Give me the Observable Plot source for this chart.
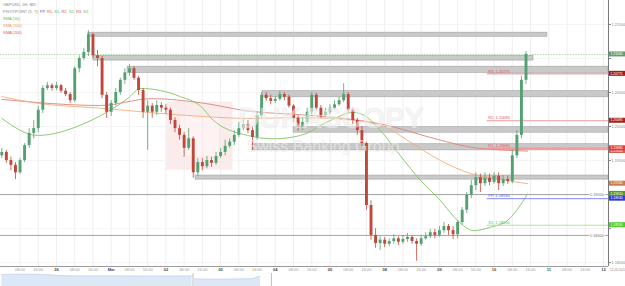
<!DOCTYPE html>
<html><head><meta charset="utf-8">
<script src="https://cdn.jsdelivr.net/npm/d3@7"></script>
<script src="https://cdn.jsdelivr.net/npm/@observablehq/plot@0.6"></script>
<style>
body{margin:0;background:#fff;}
#wrap{width:625px;height:286px;overflow:hidden;}
#wrap svg{display:block;}
</style></head><body><div id="wrap"></div>
<script>
// ---- OHLC (2-hour bars, hour index from 25 Feb 00:00, trading hours only)
const open=[1.1957,1.1962,1.1950,1.1943,1.1932,1.1950,1.1972,1.1990,1.1997,1.2024,
1.2056,1.2060,1.2056,1.2060,1.2052,1.2047,1.2038,1.2085,1.2100,1.2109,
1.2135,1.2104,1.2100,1.2046,1.2021,1.2034,1.2050,1.2068,1.2079,1.2085,
1.2071,1.2053,1.2021,1.2030,1.2021,1.2031,1.2027,1.2024,1.2009,1.1997,
1.1987,1.1968,1.1982,1.1932,1.1947,1.1941,1.1950,1.1946,1.1956,1.1962,
1.1971,1.1977,1.1987,1.1997,1.2003,1.1994,1.1984,1.2016,1.2046,1.2041,
1.2037,1.2040,1.2047,1.2043,1.2030,1.2012,1.1999,1.2006,1.2021,1.2046,
1.2027,1.2016,1.2021,1.2027,1.2032,1.2038,1.2047,1.2024,1.2009,1.1994,
1.1975,1.1884,1.1840,1.1828,1.1833,1.1827,1.1831,1.1835,1.1830,1.1834,
1.1837,1.1831,1.1827,1.1835,1.1838,1.1844,1.1840,1.1847,1.1853,1.1847,
1.1841,1.1859,1.1877,1.1899,1.1913,1.1925,1.1916,1.1924,1.1918,1.1927,
1.1916,1.1922,1.1919,1.1957,1.1987,1.2068];
const high=[1.1968,1.1965,1.1955,1.1947,1.1953,1.1975,1.1997,1.2009,1.2030,1.2060,
1.2065,1.2063,1.2065,1.2062,1.2056,1.2050,1.2088,1.2104,1.2115,1.2141,
1.2137,1.2112,1.2103,1.2050,1.2038,1.2056,1.2071,1.2085,1.2091,1.2088,
1.2074,1.2056,1.2038,1.2034,1.2038,1.2035,1.2032,1.2027,1.2013,1.2002,
1.1991,1.1997,1.1985,1.1953,1.1953,1.1956,1.1955,1.1962,1.1968,1.1980,
1.1982,1.1994,1.2006,1.2012,1.2009,1.2000,1.2021,1.2050,1.2050,1.2046,
1.2044,1.2052,1.2050,1.2046,1.2032,1.2016,1.2012,1.2027,1.2050,1.2049,
1.2031,1.2027,1.2032,1.2038,1.2043,1.2063,1.2050,1.2027,1.2012,1.2000,
1.1977,1.1891,1.1850,1.1838,1.1837,1.1835,1.1841,1.1838,1.1840,1.1843,
1.1840,1.1835,1.1840,1.1844,1.1849,1.1849,1.1853,1.1859,1.1856,1.1853,
1.1862,1.1881,1.1903,1.1921,1.1932,1.1930,1.1932,1.1930,1.1932,1.1932,
1.1928,1.1927,1.1965,1.1994,1.2074,1.2110];
const low=[1.1953,1.1946,1.1935,1.1922,1.1930,1.1947,1.1968,1.1982,1.1991,1.2019,
1.2053,1.2052,1.2053,1.2049,1.2044,1.2034,1.2035,1.2079,1.2097,1.2103,
1.2100,1.2088,1.2041,1.2012,1.2015,1.2030,1.2046,1.2062,1.2074,1.2068,
1.2046,1.2012,1.1965,1.2012,1.2016,1.2021,1.2018,1.2003,1.1991,1.1980,
1.1955,1.1965,1.1924,1.1927,1.1935,1.1938,1.1940,1.1943,1.1953,1.1957,
1.1968,1.1972,1.1984,1.1994,1.1990,1.1965,1.1980,1.2012,1.2037,1.2032,
1.2034,1.2037,1.2038,1.2027,1.2006,1.1993,1.1994,1.2003,1.2018,1.2024,
1.2012,1.2013,1.2018,1.2024,1.2030,1.2035,1.2019,1.2003,1.1987,1.1969,
1.1877,1.1833,1.1821,1.1818,1.1822,1.1824,1.1827,1.1825,1.1827,1.1830,
1.1827,1.1802,1.1824,1.1833,1.1835,1.1835,1.1837,1.1843,1.1840,1.1834,
1.1835,1.1855,1.1872,1.1894,1.1906,1.1903,1.1912,1.1913,1.1915,1.1906,
1.1912,1.1915,1.1916,1.1953,1.1982,1.2062];
const close=[1.1962,1.1950,1.1943,1.1932,1.1950,1.1972,1.1990,1.1997,1.2024,1.2056,
1.2060,1.2056,1.2060,1.2052,1.2047,1.2038,1.2085,1.2100,1.2109,1.2135,
1.2104,1.2100,1.2046,1.2021,1.2034,1.2050,1.2068,1.2079,1.2085,1.2071,
1.2053,1.2021,1.2030,1.2021,1.2031,1.2027,1.2024,1.2009,1.1997,1.1987,
1.1968,1.1982,1.1932,1.1947,1.1941,1.1950,1.1946,1.1956,1.1962,1.1971,
1.1977,1.1987,1.1997,1.2003,1.1994,1.1984,1.2016,1.2046,1.2041,1.2037,
1.2040,1.2047,1.2043,1.2030,1.2012,1.1999,1.2006,1.2021,1.2046,1.2027,
1.2016,1.2021,1.2027,1.2032,1.2038,1.2047,1.2024,1.2009,1.1994,1.1975,
1.1884,1.1840,1.1828,1.1833,1.1827,1.1831,1.1835,1.1830,1.1834,1.1837,
1.1831,1.1827,1.1835,1.1838,1.1844,1.1840,1.1847,1.1853,1.1847,1.1841,
1.1859,1.1877,1.1899,1.1913,1.1925,1.1916,1.1924,1.1918,1.1927,1.1916,
1.1922,1.1919,1.1957,1.1987,1.2068,1.2106];
const barHours = 2;

// ---- moving averages (traced)
const sma50Hours=[0,15.7,35.9,43.3,55.2,60.9,69.6,78.4,87.2,92.9,107.8,119.2,131.1,144.2,154.3,160.5,166.2,174.9,183.7,192.5,200,207,214.4,221.9,230.7];
const sma50Values=[1.2012,1.1987,1.2004,1.2016,1.2041,1.2056,1.2053,1.2044,1.2030,1.2009,1.1987,1.1982,1.1987,1.2009,1.2021,1.2013,1.1994,1.1957,1.1921,1.1891,1.1862,1.1847,1.1852,1.1862,1.1901];
const sma100Hours=[0,14,43.3,87.2,107.8,131.1,144.2,166.2,179.3,192.5,205.7,215.7,230.7];
const sma100Values=[1.2044,1.2035,1.2027,1.2015,1.2012,1.2013,1.2012,1.2002,1.1977,1.1950,1.1931,1.1924,1.1916];
const sma200Hours=[0,43.3,65.8,87.2,107.8,136.8,166.2,192.5,207,230.7];
const sma200Values=[1.2040,1.2031,1.2041,1.2035,1.2023,1.2016,1.2004,1.1980,1.1969,1.1964];

// ---- pivot points
const pivotNames=["R3","R2","R1","PP","S1"];
const pivotValues=[1.20775,1.20085,1.19680,1.18940,1.18550];
const pivotStartHour=213;

// ---- supply / demand zones
const zoneStartHour=[38.0,40.2,55.2,114.4,128.0,110.0,85.0];
const zoneEndHour=[239.4,233.3,null,null,null,null,null];
const zoneTop=[1.2138,1.2104,1.2088,1.2052,1.1999,1.1974,1.1928];
const zoneBottom=[1.2132,1.2097,1.2079,1.2043,1.1991,1.1965,1.1922];

// ---- horizontal level lines
const levelValues=[1.1900,1.1840];

// ---- axes
const hourTicks=[8,16,32,40,56,64,80,88,104,112,128,136,152,160,176,184,200,208,224,232,248,256];
const hourLabels=["08:00","16:00","08:00","16:00","08:00","16:00","08:00","16:00","08:00","16:00","08:00","16:00","08:00","16:00","08:00","16:00","08:00","16:00","08:00","16:00","08:00","16:00"];
const dayTicks=[24,48,72,96,120,144,168,192,216,240,264];
const dayLabels=["26","Mar","02","03","04","05","08","09","10","11","12"];
const priceTicks=[1.180,1.185,1.190,1.195,1.200,1.205,1.210,1.215];
const dateLabel="12.03.2021";

// ---- lower pane (indicator area)
const paneHours=[0,10,20,26,35,50,65,83.5,84.5,95,105,110,112,113.5];
const paneValues=[12,12.2,11.8,10.8,10.5,10.6,10.3,10.5,7.5,7.2,7.6,7.8,9.5,10.2];
const paneSeg=[0,0,0,0,0,0,0,0,1,1,1,1,1,1];
const paneDividers=[83.9,118.3];

// ---------------------------------------------------------------
const xDomain=[-0.57,266.2];
const yDomain=[1.17943,1.21853];
const GREEN="#55a070", RED="#c2473a";
const pivotColor={R3:"#e07a7a",R2:"#e79090",R1:"#f29a9a",PP:"#7c7cf5",S1:"#a6e394"};
const pivotText={R3:"#d45a5a",R2:"#d45a5a",R1:"#e06060",PP:"#5a5af0",S1:"#5cc44a"};

const candles=close.map((c,i)=>({h:i*barHours,o:open[i],hi:high[i],lo:low[i],c,up:c>=open[i]}));
const zones=zoneTop.map((t,i)=>({h1:zoneStartHour[i],h2:zoneEndHour[i]??xDomain[1],p1:zoneBottom[i],p2:t}));
const pivots=pivotNames.map((n,i)=>({n,v:pivotValues[i]}));
const sma50=sma50Hours.map((h,i)=>({h,v:sma50Values[i]}));
const sma100=sma100Hours.map((h,i)=>({h,v:sma100Values[i]}));
const sma200=sma200Hours.map((h,i)=>({h,v:sma200Values[i]}));
const hourMap=new Map(hourTicks.map((h,i)=>[h,hourLabels[i]]));
const dayMap=new Map(dayTicks.map((h,i)=>[h,dayLabels[i]]));
const lastClose=close[close.length-1];
const font="Liberation Sans, Arial, sans-serif";

// right-axis value tags (drawn on top of the axis labels)
const tags=[
  {v:sma200Values[sma200Values.length-1],c:"#d0605a"},
  {v:lastClose,c:"#5e9f72"},
  {v:pivotValues[0],c:"#a01c1c"},
  {v:pivotValues[1],c:"#a82020"},
  {v:pivotValues[2],c:"#e53935"},
  {v:sma100Values[sma100Values.length-1],c:"#c97c4c"},
  {v:sma50Values[sma50Values.length-1],c:"#4f9a32"},
  {v:pivotValues[3],c:"#2b3fd6"},
  {v:pivotValues[4],c:"#4ccc2e"}
];
const pxPerUnit=266/(yDomain[1]-yDomain[0]);
const hiddenTick=d=>tags.some(t=>Math.abs(t.v-d)*pxPerUnit<4.5);

const chart=Plot.plot({
  width:625,height:273,marginLeft:0,marginRight:17,marginTop:0,marginBottom:7,
  style:{fontFamily:font,fontSize:"4px",color:"#777",background:"transparent",overflow:"visible"},
  x:{domain:xDomain,axis:null},
  y:{domain:yDomain,axis:null},
  marks:[
    Plot.ruleX([...hourTicks,...dayTicks],{stroke:"#ebebeb",strokeWidth:0.8}),
    Plot.ruleY(priceTicks,{stroke:"#f3f3f3",strokeWidth:0.8}),
    Plot.rect(zones,{x1:"h1",x2:"h2",y1:"p1",y2:"p2",fill:"#c9c9c9",stroke:"#a2a2a2",strokeWidth:0.6}),
    Plot.ruleY(levelValues,{x1:xDomain[0],x2:xDomain[1],stroke:"#8c8c8c",strokeWidth:0.8}),
    Plot.line(sma200,{x:"h",y:"v",stroke:"#dc857a",strokeWidth:0.9,curve:"monotone-x"}),
    Plot.line(sma100,{x:"h",y:"v",stroke:"#f2ad7e",strokeWidth:0.9,curve:"monotone-x"}),
    Plot.line(sma50,{x:"h",y:"v",stroke:"#82c463",strokeWidth:0.9,curve:"monotone-x"}),
    Plot.ruleY(pivots,{y:"v",x1:pivotStartHour,x2:xDomain[1],stroke:d=>pivotColor[d.n],strokeWidth:d=>d.n==="R1"?1.6:0.9}),
    Plot.text(pivots,{x:pivotStartHour,y:"v",dx:1,dy:-2.6,text:d=>`${d.n}, ${d.v.toFixed(5)}`,textAnchor:"start",fill:d=>pivotText[d.n],fontSize:4}),
    Plot.ruleY([lastClose],{stroke:"#8fd68f",strokeWidth:0.8,strokeDasharray:"1.5,1.2"}),
    Plot.ruleX(candles,{x:"h",y1:"lo",y2:"hi",stroke:d=>d.up?GREEN:RED,strokeWidth:0.8}),
    Plot.ruleX(candles,{x:"h",y1:"o",y2:"c",stroke:d=>d.up?GREEN:RED,strokeWidth:2.9}),
    Plot.text(levelValues,{x:258,y:d=>d,text:d=>d.toFixed(5),textAnchor:"start",fill:"#777",stroke:"white",strokeWidth:2,fontSize:4}),
    Plot.text(["DUKASCOPY"],{frameAnchor:"top-left",dx:238,dy:107,text:d=>d,textAnchor:"start",fontSize:29,fontWeight:"bold",fill:"#eeeeee",fillOpacity:0.6,stroke:"#d8d8d8",strokeOpacity:0.5,strokeWidth:0.5}),
    Plot.text(["Swiss Banking Group"],{frameAnchor:"top-left",dx:246,dy:140,text:d=>d,textAnchor:"start",fontSize:16,fill:"#eeeeee",fillOpacity:0.6,stroke:"#dddddd",strokeOpacity:0.4,strokeWidth:0.4}),
    Plot.ruleY([yDomain[0]],{stroke:"#9a9a9a",strokeWidth:1}),
    Plot.ruleX([xDomain[1]],{stroke:"#7a7a7a",strokeWidth:1}),
    Plot.axisX(hourTicks,{tickFormat:d=>hourMap.get(d),tickSize:0,tickPadding:1.5,fontSize:4,fill:"#999"}),
    Plot.axisX(dayTicks,{tickFormat:d=>dayMap.get(d),tickSize:0,tickPadding:1.5,fontSize:4,fill:"#444",fontWeight:"bold"}),
    Plot.axisY(priceTicks,{anchor:"right",tickFormat:d=>hiddenTick(d)?"":d.toFixed(5),tickSize:2,tickPadding:1,fontSize:4,fill:"#888",stroke:"#888"})
  ]
});

const svg=d3.select(chart);
const ys=chart.scale("y"), xs=chart.scale("x");
// watermark logo (pink square) behind marks
const logoX=xs.apply(72.5), logoY=ys.apply(1.2036);
svg.insert("rect","g").attr("x",logoX).attr("y",logoY).attr("width",66).attr("height",68).attr("fill","#fbe4e4").attr("opacity",0.75);
svg.insert("rect","g").attr("x",logoX+14).attr("y",logoY+14).attr("width",38).attr("height",40).attr("fill","#fff4f4").attr("opacity",0.8);

const axisX0=xs.apply(xDomain[1])+1;
const tg=svg.append("g").attr("font-family",font).attr("text-anchor","start");
for(const t of tags){
  const yy=ys.apply(t.v);
  tg.append("rect").attr("x",axisX0).attr("y",yy-2.5).attr("width",16).attr("height",5).attr("fill",t.c);
  tg.append("text").attr("x",axisX0+1.5).attr("y",yy+1.2).attr("fill","white").attr("font-size",3.4).text(t.v.toFixed(5));
}
tg.append("text").attr("x",axisX0+1).attr("y",ys.apply(yDomain[0])+5).attr("fill","#888").attr("font-size",3).text(dateLabel);

// legend
const lg=svg.append("g").attr("font-family",font).attr("font-size",4).attr("text-anchor","start");
lg.append("text").attr("x",3).attr("y",6.4).attr("fill","#888").text("GBPUSD, 1H, BID");
const pv=lg.append("text").attr("x",3).attr("y",13.4).attr("fill","#888");
pv.append("tspan").text("PIVOTPOINT (5, 7): ");
const legendPivots=[["PP","#5a5af0"],["R1","#e05050"],["S1","#5cc44a"],["R2","#e05050"],["S2","#5cc44a"],["R3","#e05050"],["S3","#5cc44a"]];
legendPivots.forEach(([n,c],i)=>{pv.append("tspan").attr("fill",c).text(n);if(i<legendPivots.length-1)pv.append("tspan").attr("fill","#888").text(", ");});
lg.append("text").attr("x",3).attr("y",20.4).attr("fill","#6cbb48").text("SMA (50)");
lg.append("text").attr("x",3).attr("y",27.4).attr("fill","#ee9a62").text("SMA (100)");
lg.append("text").attr("x",3).attr("y",33.6).attr("fill","#d0605a").text("SMA (200)");

document.getElementById("wrap").append(chart);

// lower pane
const paneData=paneHours.map((h,i)=>({h,v:paneValues[i],s:paneSeg[i]}));
const pane=Plot.plot({
  width:625,height:13,marginLeft:0,marginRight:17,marginTop:0,marginBottom:0,
  style:{background:"transparent"},
  x:{domain:xDomain,axis:null},y:{domain:[0,13],axis:null},
  marks:[
    Plot.areaY(paneData,{x:"h",y:"v",z:"s",fill:"#dde8f7",curve:"monotone-x"}),
    Plot.lineY(paneData,{x:"h",y:"v",z:"s",stroke:"#c3d5f0",strokeWidth:0.7,curve:"monotone-x"}),
    Plot.ruleX(paneDividers,{stroke:"#b0b0b0",strokeWidth:0.8})
  ]
});
document.getElementById("wrap").append(pane);
</script></body></html>
